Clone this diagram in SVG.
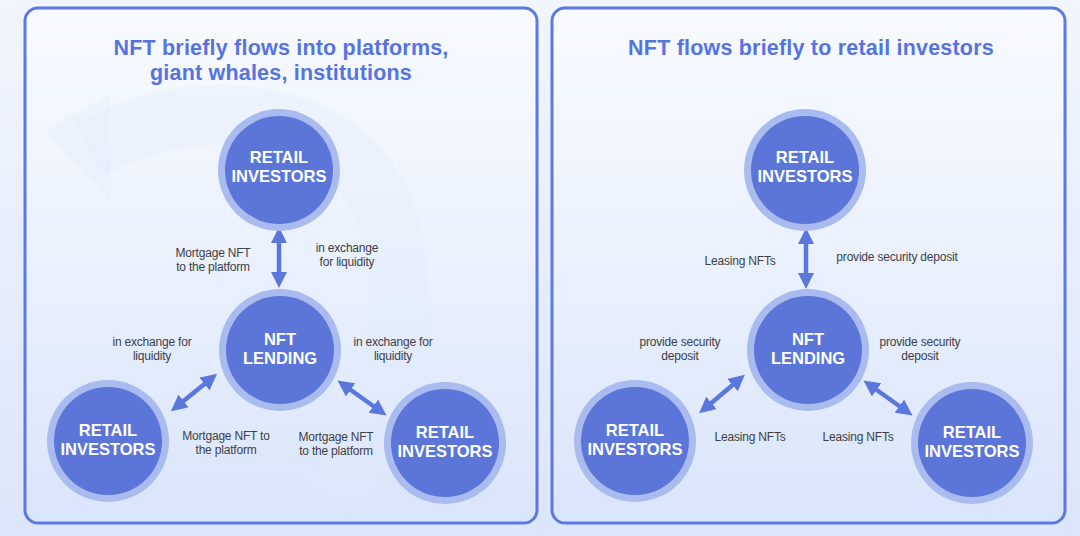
<svg xmlns="http://www.w3.org/2000/svg" width="1080" height="536" viewBox="0 0 1080 536">
<defs>
<linearGradient id="bg" x1="0" y1="0" x2="0" y2="1">
<stop offset="0" stop-color="#f1f5fd"/>
<stop offset="1" stop-color="#dbe6fa"/>
</linearGradient>
<linearGradient id="panel" x1="0" y1="0" x2="0" y2="1">
<stop offset="0" stop-color="#f8faff"/>
<stop offset="0.5" stop-color="#eaf1fd"/>
<stop offset="1" stop-color="#d9e5fb"/>
</linearGradient>
<marker id="ah" viewBox="0 0 10 10" refX="2" refY="5" markerWidth="3.6" markerHeight="3.6" orient="auto-start-reverse" markerUnits="strokeWidth">
<path d="M0,0 L10,5 L0,10 Z" fill="#5b77dc"/>
</marker>
<style>
.panel{fill:url(#panel);stroke:#5d78de;stroke-width:3}
.ring{fill:#a9bbef}
.core{fill:#5b76d8}
.ct{font-family:"Liberation Sans",Arial,sans-serif;font-weight:bold;font-size:16.5px;fill:#ffffff;text-anchor:middle}
.title{font-family:"Liberation Sans",Arial,sans-serif;font-weight:bold;font-size:21.5px;fill:#5673e2;text-anchor:middle;letter-spacing:0.2px}
.lbl{font-family:"Liberation Sans",Arial,sans-serif;font-size:12px;fill:#3e3e46;text-anchor:middle;letter-spacing:-0.2px}
.arr{stroke:#5b77dc;stroke-width:4.5;fill:none;marker-start:url(#ah);marker-end:url(#ah)}
.deco{fill:none;stroke:#e2eafc;stroke-width:60;opacity:0.3}
</style>
</defs>
<rect x="0" y="0" width="1080" height="536" fill="url(#bg)"/>

<g id="panel-left">
<rect class="panel" x="25" y="8" width="512" height="515" rx="13"/>
<path class="deco" d="M90,150 C170,100 300,100 360,170 C420,240 410,400 330,500"/>
<polygon points="45,130 110,95 110,200" fill="#e2eafc" opacity="0.3"/>
<text class="title" x="281" y="55">NFT briefly flows into platforms,</text>
<text class="title" x="281" y="80">giant whales, institutions</text>
</g>

<g id="panel-right">
<rect class="panel" x="552" y="8" width="513" height="515" rx="13"/>
<text class="title" x="811" y="55">NFT flows briefly to retail investors</text>
</g>

<g id="connectors">
<line class="arr" x1="279" y1="240" x2="279" y2="275"/>
<line class="arr" x1="181" y1="403" x2="207" y2="382"/>
<line class="arr" x1="348" y1="388" x2="376" y2="408"/>
<line class="arr" x1="806" y1="241" x2="806" y2="276"/>
<line class="arr" x1="709" y1="405" x2="735" y2="383"/>
<line class="arr" x1="874" y1="388" x2="902" y2="408"/>
</g>

<g id="labels-left">
<text class="lbl" x="213" y="257">Mortgage NFT</text>
<text class="lbl" x="213" y="271">to the platform</text>
<text class="lbl" x="347" y="252">in exchange</text>
<text class="lbl" x="347" y="266">for liquidity</text>
<text class="lbl" x="152" y="346">in exchange for</text>
<text class="lbl" x="152" y="360">liquidity</text>
<text class="lbl" x="393" y="346">in exchange for</text>
<text class="lbl" x="393" y="360">liquidity</text>
<text class="lbl" x="226" y="440">Mortgage NFT to</text>
<text class="lbl" x="226" y="454">the platform</text>
<text class="lbl" x="336" y="441">Mortgage NFT</text>
<text class="lbl" x="336" y="455">to the platform</text>
</g>

<g id="labels-right">
<text class="lbl" x="740" y="265">Leasing NFTs</text>
<text class="lbl" x="897" y="261">provide security deposit</text>
<text class="lbl" x="680" y="346">provide security</text>
<text class="lbl" x="680" y="360">deposit</text>
<text class="lbl" x="920" y="346">provide security</text>
<text class="lbl" x="920" y="360">deposit</text>
<text class="lbl" x="750" y="441">Leasing NFTs</text>
<text class="lbl" x="858" y="441">Leasing NFTs</text>
</g>

<g id="node-l-top">
<circle class="ring" cx="279" cy="170" r="61"/>
<circle class="core" cx="279" cy="170" r="54"/>
<text class="ct" x="279" y="163">RETAIL</text>
<text class="ct" x="279" y="182">INVESTORS</text>
</g>
<g id="node-l-center">
<circle class="ring" cx="280" cy="350" r="61"/>
<circle class="core" cx="280" cy="350" r="54"/>
<text class="ct" x="280" y="345">NFT</text>
<text class="ct" x="280" y="364">LENDING</text>
</g>
<g id="node-l-left">
<circle class="ring" cx="108" cy="441" r="61"/>
<circle class="core" cx="108" cy="441" r="54"/>
<text class="ct" x="108" y="436">RETAIL</text>
<text class="ct" x="108" y="455">INVESTORS</text>
</g>
<g id="node-l-right">
<circle class="ring" cx="445" cy="443" r="61"/>
<circle class="core" cx="445" cy="443" r="54"/>
<text class="ct" x="445" y="438">RETAIL</text>
<text class="ct" x="445" y="457">INVESTORS</text>
</g>

<g id="node-r-top">
<circle class="ring" cx="805" cy="170" r="61"/>
<circle class="core" cx="805" cy="170" r="54"/>
<text class="ct" x="805" y="163">RETAIL</text>
<text class="ct" x="805" y="182">INVESTORS</text>
</g>
<g id="node-r-center">
<circle class="ring" cx="808" cy="350" r="61"/>
<circle class="core" cx="808" cy="350" r="54"/>
<text class="ct" x="808" y="345">NFT</text>
<text class="ct" x="808" y="364">LENDING</text>
</g>
<g id="node-r-left">
<circle class="ring" cx="635" cy="441" r="61"/>
<circle class="core" cx="635" cy="441" r="54"/>
<text class="ct" x="635" y="436">RETAIL</text>
<text class="ct" x="635" y="455">INVESTORS</text>
</g>
<g id="node-r-right">
<circle class="ring" cx="972" cy="443" r="61"/>
<circle class="core" cx="972" cy="443" r="54"/>
<text class="ct" x="972" y="438">RETAIL</text>
<text class="ct" x="972" y="457">INVESTORS</text>
</g>
</svg>
